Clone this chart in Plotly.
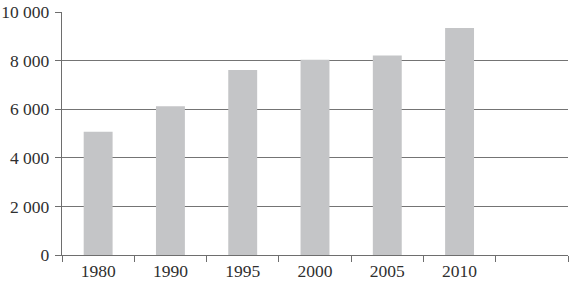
import plotly.graph_objects as go

categories = ["1980", "1990", "1995", "2000", "2005", "2010"]
values = [5070, 6120, 7610, 8030, 8210, 9340]
y_ticks = [0, 2000, 4000, 6000, 8000, 10000]
y_tick_labels = ["0", "2 000", "4 000", "6 000", "8 000", "10 000"]
slots = categories + [" "]

fig = go.Figure(go.Bar(x=categories, y=values, marker_color="#c4c5c7",
                       marker_line_width=0, width=0.4))

font = dict(family="Liberation Serif, Times New Roman, serif", size=17.5, color="#2f2f2f")
fig.update_layout(
    width=573, height=283,
    margin=dict(l=62, r=5, t=12, b=28),
    paper_bgcolor="white", plot_bgcolor="white",
    showlegend=False,
    font=font,
)
fig.update_xaxes(
    type="category", categoryorder="array", categoryarray=slots,
    range=[-0.5, len(slots) - 0.5], automargin=False,
    tickson="boundaries", ticks="outside", ticklen=6, tickcolor="#6e6e6e",
    showline=True, linecolor="#6e6e6e", linewidth=1.3,
    showgrid=False, tickfont=font, ticklabelstandoff=0,
)
fig.update_yaxes(
    range=[0, 10000], tickvals=y_ticks, ticktext=y_tick_labels, automargin=False,
    ticks="outside", ticklen=6, tickcolor="#6e6e6e",
    showline=True, linecolor="#6e6e6e", linewidth=1.3,
    showgrid=True, gridcolor="#747474", gridwidth=1.3,
    zeroline=False, tickfont=font, ticklabelstandoff=2,
)
fig.write_html("out.html", config={"displayModeBar": False},
               post_script="document.body.style.margin='0';document.body.style.padding='0';")
